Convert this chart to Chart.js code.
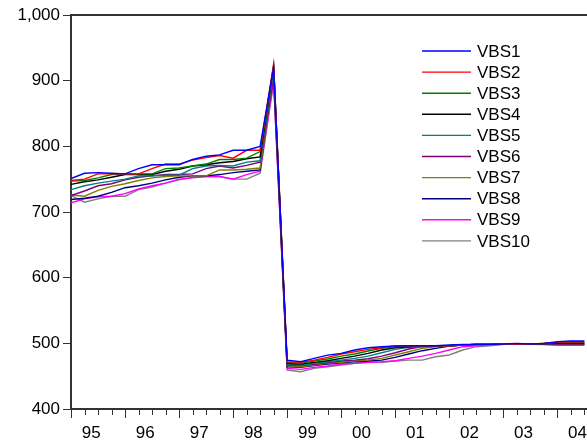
<!DOCTYPE html>
<html>
<head>
<meta charset="utf-8">
<script src="https://cdn.jsdelivr.net/npm/chart.js@4.4.1/dist/chart.umd.min.js"></script>
<style>
  html, body { margin: 0; padding: 0; background: #fff; overflow: hidden; }
  canvas { display: block; }
</style>
</head>
<body>
<canvas id="chart" width="587" height="442"></canvas>
<script>
// quarterly, 1995Q1 .. 2004Q3
const years = ['95', '96', '97', '98', '99', '00', '01', '02', '03', '04']
const names = ['VBS1', 'VBS2', 'VBS3', 'VBS4', 'VBS5', 'VBS6', 'VBS7', 'VBS8', 'VBS9', 'VBS10']
const colors = ['#0000ff', '#ff0000', '#008000', '#000000', '#008080', '#800080', '#808000', '#000080', '#ff00ff', '#808080']

const vbs1 = [751, 759, 760, 759, 758, 766, 772, 772, 772, 780, 785, 787, 794, 794, 800, 920,
    474.5, 472, 477, 482, 484.7, 489.8, 493.3, 494.9, 495.9, 496.4, 496.4, 496.4, 497.4, 498.4, 498.4, 498.4, 498.9, 500, 498.9, 500, 502.5, 503.5, 503.5]
const vbs2 = [748, 750, 758, 758, 758, 758, 766, 773, 773, 779, 783, 786, 782, 794, 794, 925,
    472, 471, 474.5, 478.6, 483.7, 487.2, 490.8, 493.3, 495.9, 496.4, 496.4, 496.4, 496.4, 497.4, 498.4, 498.4, 498.9, 498.9, 498.9, 500, 501.5, 502.5, 502.5]
const vbs3 = [747, 748, 752, 757, 758, 758, 758, 766, 767, 770, 773, 780, 780, 782, 792, 922,
    471, 469.5, 473, 476.1, 480.6, 483.7, 488.3, 492.3, 494.9, 495.9, 496.4, 496.4, 496.4, 497.4, 498.4, 498.4, 498.9, 498.9, 498.9, 500, 501.5, 502.5, 502.5]
const vbs4 = [742, 746, 749, 753, 757, 757, 757, 762, 765, 770, 772, 775, 777, 781, 784, 923,
    469.5, 468.5, 471, 473.5, 477.1, 480.6, 484.7, 489.8, 493.3, 494.9, 495.9, 496.4, 496.4, 497.4, 498.4, 498.4, 498.9, 498.9, 498.9, 499.5, 500, 500.5, 500.5]
const vbs5 = [734, 740, 744, 747, 750, 755, 755, 756, 756, 766, 770, 771, 770, 776, 778, 915,
    468.5, 467, 469.5, 472, 474.5, 477.1, 480.6, 485.7, 490.8, 493.8, 494.9, 496.4, 496.4, 497.4, 498.4, 498.4, 498.9, 498.9, 498.9, 499.5, 500, 500, 500]
const vbs6 = [725, 732, 740, 743, 749, 753, 755, 757, 757, 758, 766, 770, 767, 771, 776, 905,
    467, 466, 468, 470.5, 473, 474.5, 476.6, 480.6, 485.7, 491.3, 494.9, 495.9, 496.4, 497.4, 498.4, 498.4, 498.9, 498.4, 498.4, 498.9, 499, 499, 499]
const vbs7 = [726, 724, 733, 739, 743, 748, 752, 754, 755, 755, 755, 764, 764, 765, 767, 910,
    466, 464.4, 467, 469.5, 471, 473, 474.5, 477.1, 482.2, 487.2, 492.3, 494.9, 496.4, 497.4, 498.4, 498.4, 498.9, 498.4, 498.4, 498.9, 499, 499, 499]
const vbs8 = [719, 721, 724, 730, 737, 740, 744, 749, 753, 755, 755, 757, 760, 762, 764, 918,
    464.4, 463.4, 466, 468.5, 470.5, 472, 473, 474.5, 478.6, 483.7, 488.8, 492.3, 495.9, 497.4, 498.4, 498.4, 498.9, 498.4, 498.4, 498.4, 498.5, 498.5, 498.5]
const vbs9 = [714, 720, 723, 724, 728, 735, 740, 744, 750, 752, 754, 754, 750, 757, 762, 900,
    461.9, 460.3, 463.4, 465.4, 468.5, 469.5, 471, 472, 473.5, 477.1, 480.6, 484.7, 489.8, 494.9, 496.4, 497.4, 498.4, 498.4, 498.4, 498, 497, 497, 497]
const vbs10 = [725, 715, 720, 724, 724, 734, 738, 744, 749, 753, 754, 754, 750, 750, 759, 897,
    459.3, 456.8, 461.9, 464.4, 467, 469.5, 471, 471, 473, 474.5, 474.5, 479.6, 482.2, 489.8, 494.9, 496.4, 498.4, 498.4, 498.4, 498.4, 498, 498, 498]

const series = [vbs1, vbs2, vbs3, vbs4, vbs5, vbs6, vbs7, vbs8, vbs9, vbs10]

const FONT = 'Liberation Sans, Arial, sans-serif'

// quarter tick marks (long at each year start) + top frame line
const framePlugin = {
    id: 'frame',
    afterDraw(chart) {
        const ctx = chart.ctx
        const area = chart.chartArea
        const xs = chart.scales.x
        ctx.save()
        ctx.strokeStyle = '#333'
        ctx.lineWidth = 2
        ctx.beginPath()
        ctx.moveTo(area.left - 1, area.top)
        ctx.lineTo(area.right, area.top)
        ctx.stroke()
        ctx.lineWidth = 1
        for (let k = 0; k <= Math.floor(xs.max); k++) {
            const x = Math.round(xs.getPixelForValue(k)) + 0.5
            const len = k % 4 === 0 ? 9 : 6
            ctx.beginPath()
            ctx.moveTo(x, area.bottom)
            ctx.lineTo(x, area.bottom + len)
            ctx.stroke()
        }
        ctx.restore()
    }
}

const legendPlugin = {
    id: 'sideLegend',
    afterDraw(chart) {
        const ctx = chart.ctx
        ctx.save()
        ctx.font = '17px ' + FONT
        ctx.textBaseline = 'middle'
        chart.data.datasets.forEach((ds, i) => {
            const y = 51 + i * 21.1
            ctx.strokeStyle = ds.borderColor
            ctx.lineWidth = 1.4
            ctx.beginPath()
            ctx.moveTo(422, y)
            ctx.lineTo(471, y)
            ctx.stroke()
            ctx.fillStyle = '#000'
            ctx.fillText(ds.label, 477, y + 1)
        })
        ctx.restore()
    }
}

const datasets = series.map((s, i) => ({
    label: names[i],
    data: s.map((v, k) => ({ x: k, y: v })),
    borderColor: colors[i],
    backgroundColor: colors[i],
    borderWidth: 1.4,
    pointRadius: 0,
    tension: 0
}))

new Chart(document.getElementById('chart'), {
    type: 'line',
    data: { datasets: datasets },
    options: {
        responsive: false,
        animation: false,
        layout: { padding: { top: 15, right: 0, left: 0, bottom: 0 } },
        plugins: { legend: { display: false }, tooltip: { enabled: false } },
        scales: {
            x: {
                type: 'linear',
                min: 0,
                max: 38.2,
                afterBuildTicks: scale => {
                    scale.ticks = years.map((y, i) => ({ value: 4 * i + 1.5 }))
                },
                afterFit: scale => {
                    scale.height = 33
                    scale.paddingLeft = 0
                    scale.paddingRight = 0
                },
                ticks: {
                    autoSkip: false,
                    maxRotation: 0,
                    color: '#000',
                    font: { family: FONT, size: 17 },
                    padding: 5,
                    callback: (v) => years[Math.round((v - 1.5) / 4)]
                },
                grid: { drawOnChartArea: false, tickLength: 9, tickColor: 'transparent' },
                border: { color: '#333', width: 2 }
            },
            y: {
                min: 400,
                max: 1000,
                afterFit: scale => { scale.width = 71 },
                ticks: {
                    stepSize: 100,
                    color: '#000',
                    font: { family: FONT, size: 17 },
                    padding: 3,
                    callback: v => v.toLocaleString('en-US')
                },
                grid: { drawOnChartArea: false, tickLength: 8, tickColor: '#333' },
                border: { color: '#333', width: 2 }
            }
        }
    },
    plugins: [framePlugin, legendPlugin]
})
</script>
</body>
</html>
